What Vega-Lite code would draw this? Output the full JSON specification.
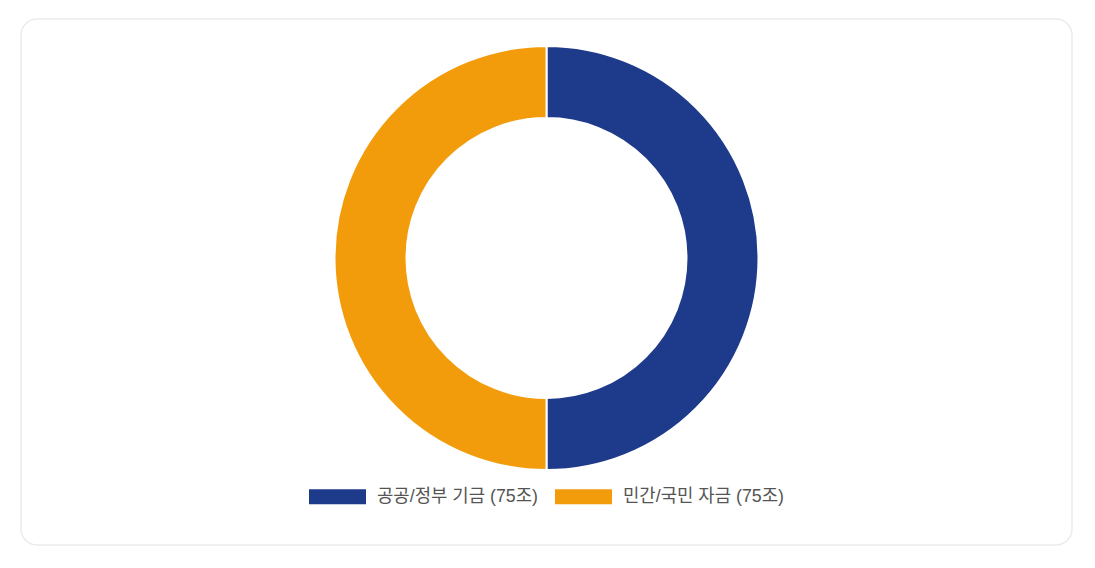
{
  "$schema": "https://vega.github.io/schema/vega-lite/v6.json",
  "width": 1051,
  "height": 526,
  "padding": {"left": 20, "top": 18, "right": 24, "bottom": 24},
  "background": "#ffffff",
  "config": {
    "view": {"stroke": null},
    "font": "Liberation Sans, Noto Sans CJK KR"
  },
  "layer": [
    {
      "data": {"values": [{"card": "card"}]},
      "mark": {"type": "rect", "cornerRadius": 16, "fill": "#ffffff", "stroke": "#ebebeb", "strokeWidth": 1.5}
    },
    {
      "data": {
        "values": [
          {"source": "공공/정부 기금 (75조)", "amount": 75, "rank": 1},
          {"source": "민간/국민 자금 (75조)", "amount": 75, "rank": 2}
        ]
      },
      "mark": {
        "type": "arc",
        "outerRadius": 212,
        "innerRadius": 140,
        "stroke": "#ffffff",
        "strokeWidth": 2,
        "y": {"expr": "height/2 - 24"}
      },
      "encoding": {
        "theta": {"field": "amount", "type": "quantitative", "stack": true},
        "order": {"field": "rank", "type": "quantitative"},
        "color": {
          "field": "source",
          "type": "nominal",
          "scale": {"domain": ["공공/정부 기금 (75조)", "민간/국민 자금 (75조)"], "range": ["#1e3a8a", "#f39c0b"]},
          "legend": {
            "title": null,
            "orient": "none",
            "direction": "horizontal",
            "legendX": 288,
            "legendY": 449,
            "symbolType": "M-1,-0.263H1V0.263H-1Z",
            "symbolSize": 3249,
            "symbolStrokeWidth": 0,
            "symbolOpacity": 1,
            "labelFontSize": 17.8,
            "labelColor": "#555555",
            "labelFont": "Liberation Sans, Noto Sans CJK KR",
            "labelOffset": 11,
            "labelLimit": 300,
            "columnPadding": 17
          }
        }
      }
    }
  ]
}
